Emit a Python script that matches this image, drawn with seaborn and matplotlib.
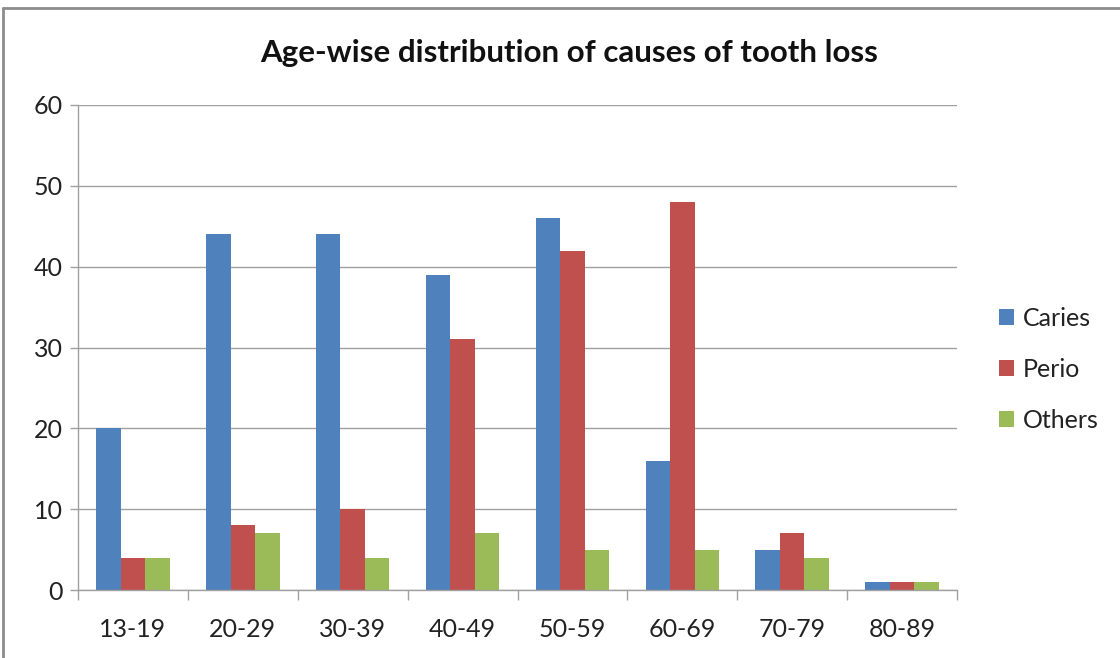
import matplotlib
matplotlib.use("Agg")
import matplotlib.pyplot as plt
import matplotlib.lines as mlines
import seaborn as sns
import pandas as pd

age_groups = ["13-19", "20-29", "30-39", "40-49", "50-59", "60-69", "70-79", "80-89"]
caries = [20, 44, 44, 39, 46, 16, 5, 1]
perio = [4, 8, 10, 31, 42, 48, 7, 1]
others = [4, 7, 4, 7, 5, 5, 4, 1]
causes = ["Caries", "Perio", "Others"]
colors = ["#4F81BD", "#C0504D", "#9BBB59"]

df = pd.DataFrame({
    "age": age_groups * 3,
    "cause": [c for c in causes for _ in age_groups],
    "count": caries + perio + others,
})

sns.set_theme(style="white")
plt.rcParams["font.family"] = ["Lato", "DejaVu Sans"]

fig = plt.figure(figsize=(11.2, 6.58), dpi=100)
ax = fig.add_axes([78 / 1120, 1 - 590 / 658, (957 - 78) / 1120, (590 - 105) / 658])

sns.barplot(data=df, x="age", y="count", hue="cause", order=age_groups,
            hue_order=causes, palette=colors, width=0.67, saturation=1,
            edgecolor="none", linewidth=0, ax=ax, legend=True)

ax.set_ylim(0, 60)
ax.set_xlim(-0.5, len(age_groups) - 0.5)
ax.set_yticks(range(0, 61, 10))
ax.yaxis.grid(True, color="#A0A0A0", linewidth=1)
ax.set_axisbelow(True)
ax.set_xlabel("")
ax.set_ylabel("")

for side in ["top", "right"]:
    ax.spines[side].set_visible(False)
for side in ["left", "bottom"]:
    ax.spines[side].set_color("#A0A0A0")
    ax.spines[side].set_linewidth(1)

ax.tick_params(axis="y", length=6, color="#A0A0A0", width=1, labelsize=18,
               labelcolor="#222222", left=True, pad=5)
ax.tick_params(axis="x", which="major", length=0, labelsize=18,
               labelcolor="#222222", pad=20)
ax.set_xticks([i - 0.5 for i in range(len(age_groups) + 1)], minor=True)
ax.tick_params(axis="x", which="minor", length=7, color="#A0A0A0", width=1,
               bottom=True)

leg = ax.legend(loc="center left", bbox_to_anchor=(1.022, 0.455), frameon=False,
                fontsize=18, handlelength=0.6, handleheight=0.6,
                handletextpad=0.35, labelspacing=1.12)
for t in leg.get_texts():
    t.set_color("#222222")

fig.text(569 / 1120, 1 - 53 / 658, "Age-wise distribution of causes of tooth loss",
         ha="center", va="center", fontsize=22.5, fontweight="bold", color="#111111")

# outer chart frame
fig.add_artist(mlines.Line2D([3 / 1120, 1], [1 - 8 / 658, 1 - 8 / 658],
                             transform=fig.transFigure, color="#8C8C8C", linewidth=2))
fig.add_artist(mlines.Line2D([3 / 1120, 3 / 1120], [0, 1 - 8 / 658],
                             transform=fig.transFigure, color="#8C8C8C", linewidth=2))

fig.savefig("out.png", dpi=100)
